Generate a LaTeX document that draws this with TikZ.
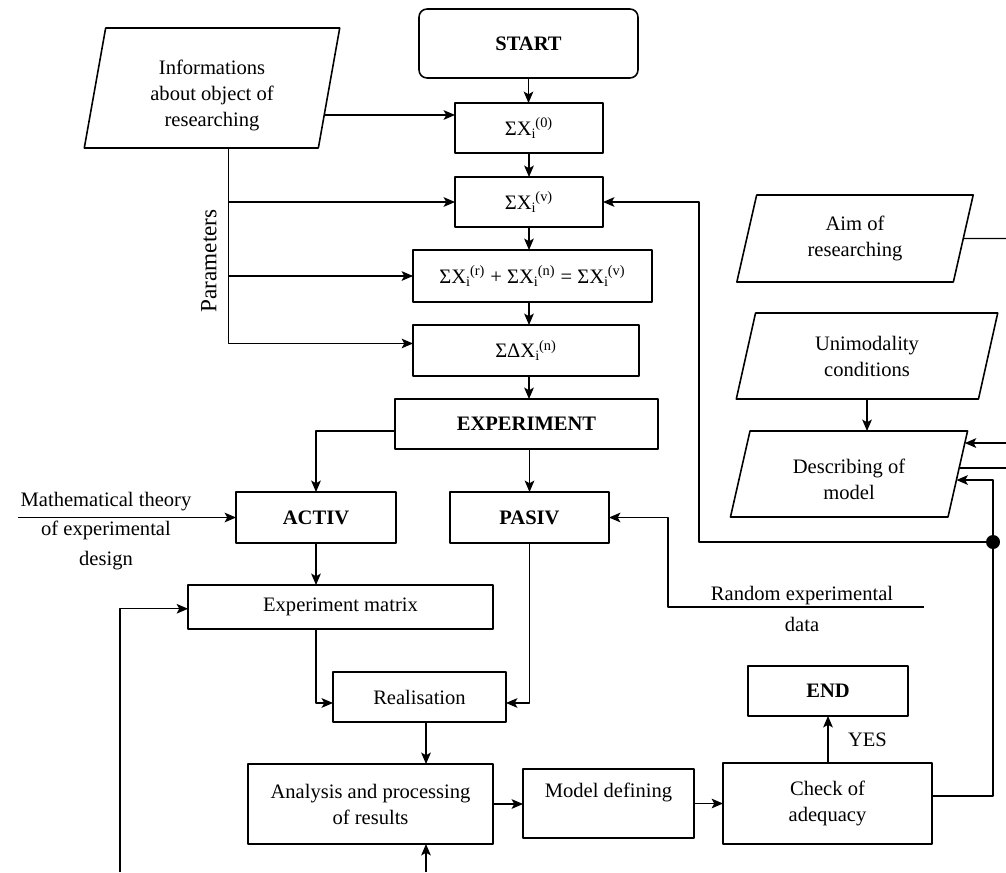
\documentclass[tikz,border=0pt]{standalone}
\usepackage{fontspec}
\setmainfont{Liberation Serif}
\usetikzlibrary{shapes.geometric,arrows.meta,calc}
\newcommand{\fsz}{\fontsize{11.7}{14.8}\selectfont}
\newcommand{\sumx}[1]{ΣX\textsubscript{i}\kern-0.6pt\textsuperscript{(#1)}}

\begin{document}
\begin{tikzpicture}[x=0.02cm, y=-0.02cm, line join=round,
    every node/.style={font=\fsz, align=center, inner sep=0pt, outer sep=0pt},
    blok/.style={draw, line width=0.9pt},
    boldblok/.style={blok, font=\fsz\bfseries},
    paral/.style 2 args={draw, line width=0.9pt, trapezium, trapezium stretches=true,
        trapezium left angle=#1, trapezium right angle=#2},
    conn/.style={line width=0.7pt},
    arr/.style={conn, -{Stealth[length=6.5pt, width=5.5pt, inset=1.5pt]}}]
    \useasboundingbox (0,0) rectangle (1006,872);

    \node[boldblok, rounded corners=0.16cm, minimum width=4.38cm, minimum height=1.38cm] (start) at (528.5,43.5) {START};
    \node[blok, minimum width=2.96cm, minimum height=1cm] (s0) at (529,128) {\sumx{0}};
    \node[blok, minimum width=2.96cm, minimum height=1cm] (sv) at (529,202) {\sumx{v}};
    \node[blok, minimum width=4.78cm, minimum height=1.04cm] (sr) at (532.5,276) {\sumx{r} + \sumx{n} = \sumx{v}};
    \node[blok, minimum width=4.52cm, minimum height=1.02cm] (sd) at (526,350.5) {ΣΔX\textsubscript{i}\kern-0.6pt\textsuperscript{(n)}};
    \node[boldblok, minimum width=5.26cm, minimum height=1cm] (exper) at (526.5,424) {EXPERIMENT};
    \node[boldblok, minimum width=3.2cm, minimum height=1.02cm] (activ) at (316,517.5) {ACTIV};
    \node[boldblok, minimum width=3.18cm, minimum height=1.02cm] (pasiv) at (529.5,517.5) {PASIV};
    \node[blok, minimum width=6.1cm, minimum height=0.88cm] (matrix) at (340.5,607) {Experiment matrix};
    \node[blok, minimum width=3.46cm, minimum height=1cm] (real) at (419.5,697) {Realisation};
    \node[blok, minimum width=4.9cm, minimum height=1.6cm] (anal) at (370.5,804) {Analysis and processing\\of results};
    \node[blok, minimum width=3.42cm, minimum height=1.38cm] (model) at (608.5,803.5) {Model defining\\\mbox{}};
    \node[blok, minimum width=4.18cm, minimum height=1.62cm] (check) at (827.5,803.5) {Check of\\adequacy};
    \node[boldblok, minimum width=3.2cm, minimum height=1cm] (finish) at (828,691) {END};

    \node[paral={80}{100}, minimum width=5.14cm, minimum height=2.4cm] (info) at (212,88)
        {\raisebox{-7.4pt}[20pt][20pt]{\begin{tabular}{@{}c@{}}Informations\\about object of\\researching\end{tabular}}};
    \node[paral={78}{102}, minimum width=4.74cm, minimum height=1.74cm] (aim) at (855,238.5) {Aim of\\researching};
    \node[paral={77.5}{102.5}, minimum width=5.24cm, minimum height=1.72cm] (unimod) at (867,356) {Unimodality\\conditions};
    \node[paral={78}{102}, minimum width=4.76cm, minimum height=1.72cm] (desc) at (849,474) {\mbox{}\\Describing of\\model};

    \node[rotate=90, font=\fontsize{13.2}{15}\selectfont] (param) at (209,261) {Parameters};
    \node (mathth) at (106,531) {Mathematical theory\\[1.8pt]of experimental\\[1.8pt]design};
    \node (random) at (802,609) {Random experimental\\[3.3pt]data};

    \coordinate (ia) at ($(info.bottom right corner)!0.275!(info.top right corner)$);
    \coordinate (ib) at ($(info.bottom left corner)!0.615!(info.bottom right corner)$);
    \coordinate (mt) at (18,517.5);
    \coordinate (rc) at (668,607);
    \coordinate (re) at (924,607);
    \coordinate (fb) at (993,542);
    \coordinate (fv) at (699,542);
    \coordinate (lb) at (120,872);
    \coordinate (ab) at (426,872);
    \coordinate (redge) at (1006,238.5);
    \coordinate (d1) at ($(desc.bottom right corner)!0.86!(desc.top right corner)$);
    \coordinate (d2) at ($(desc.bottom right corner)!0.57!(desc.top right corner)$);
    \coordinate (d3) at ($(desc.bottom right corner)!0.43!(desc.top right corner)$);

    \draw[arr] (start.south) -- (start.south |- s0.north);
    \draw[arr] (s0.south) -- (sv.north);
    \draw[arr] (sv.south) -- (sv.south |- sr.north);
    \draw[arr] (sv.south |- sr.south) -- (sv.south |- sd.north);
    \draw[arr] (sv.south |- sd.south) -- (sv.south |- exper.north);
    \draw[arr] (pasiv.north |- exper.south) -- (pasiv.north);
    \draw[arr] ([yshift=-4pt]exper.west) -| (activ.north);
    \draw[arr] (activ.south) -- (activ.south |- matrix.north);
    \draw[arr] (activ.south |- matrix.south) |- ([yshift=-3.4pt]real.west);
    \draw[arr] (pasiv.south) |- ([yshift=-3.4pt]real.east);
    \draw[arr] ([xshift=3.7pt]real.south) -- ([xshift=3.7pt]real.south |- anal.north);
    \draw[arr] (anal.east) -- (anal.east -| model.west);
    \draw[arr] (model.east) -- (check.west);
    \draw[arr] (finish.south |- check.north) -- (finish.south) node[midway, anchor=west, xshift=0.4cm] {YES};

    \draw[arr] (ia) -- (ia -| s0.west);
    \draw[arr] (ib) |- ([yshift=4pt]sd.west);
    \draw[arr] (ib |- sv.west) -- (sv.west);
    \draw[arr] (ib |- sr.west) -- (sr.west);
    \draw[arr] (mt) -- (activ.west);
    \draw[arr] (re) -- (rc) |- (pasiv.east);

    \draw[conn] ([yshift=4.3pt]check.east) -| (fb);
    \draw[arr] (fb) |- (d3);
    \draw[arr] (fb) -- (fv) |- (sv.east);
    \fill (fb) circle (0.14cm);
    \draw[arr] (lb) |- ([yshift=-1pt]matrix.west);
    \draw[arr] (ab) -- (ab |- anal.south);

    \draw[arr] (unimod.south) -- (unimod.south |- desc.north);
    \draw[conn] (aim.east) -- (redge);
    \draw[arr] (d1 -| redge) -- (d1);
    \draw[conn] (d2) -- (d2 -| redge);
\end{tikzpicture}
\end{document}
